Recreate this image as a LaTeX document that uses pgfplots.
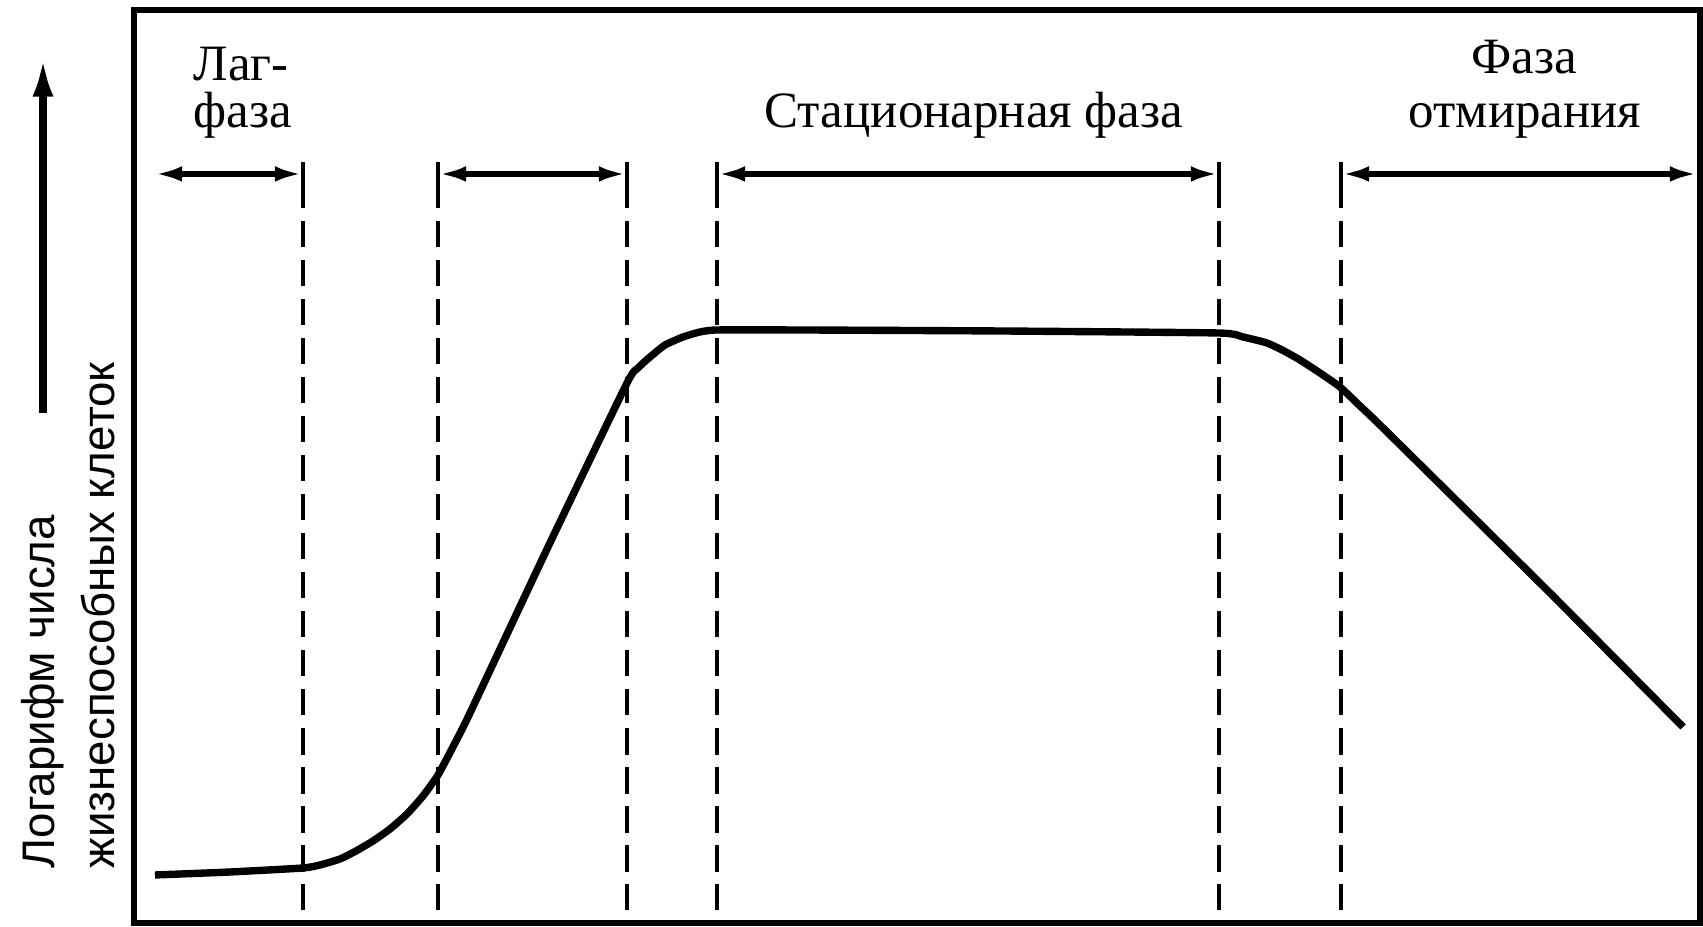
\documentclass[border=0pt]{standalone}
\usepackage{fontspec}
\setmainfont{Liberation Serif}
\newfontfamily\arialfont{Liberation Sans}
\usepackage{pgfplots}
\pgfplotsset{compat=1.18}
\usetikzlibrary{arrows.meta}
\tikzset{
  dashline/.style={line width=1pt, dash pattern=on 7.5pt off 3.6pt},
  phase/.style={line width=1.9pt, {Latex[length=8pt,width=4.4pt]}-{Latex[length=8pt,width=4.4pt]}},
  lbl/.style={font=\fontsize{14.5}{14}\selectfont, inner sep=0pt},
}

\begin{document}
\begin{tikzpicture}
\begin{axis}[
  at={(13.4mm,0.4mm)}, anchor=south west,
  scale only axis, width=156.6mm, height=91.3mm,
  xmin=134, xmax=1700, ymin=4, ymax=917,
  xtick=\empty, ytick=\empty,
  axis line style={line width=1.8pt},
  clip=false,
]
% growth curve
\addplot[line width=2.1pt, smooth, tension=0.3, line join=round] coordinates {
 (155,52) (230,55) (303,59) (320,62) (340,68) (356,76) (373,86) (390,98)
 (407,113) (423,131) (438,152) (455,184) (470,214) (548,380) (627,544)
 (638,559) (650,570) (665,582) (683,590) (700,595) (717,597)
 (800,597) (1000,596) (1218,594)
 (1243,590) (1267,584) (1284,576) (1300,567) (1320,554) (1340,540)
 (1360,521) (1383,499) (1550,334) (1683,200)
};
% dashed phase boundaries
\foreach \xx in {303,438,627,717,1219,1341} {
  \edef\temp{\noexpand\draw[dashline] (axis cs:\xx,745) -- (axis cs:\xx,17);}
  \temp
  \edef\temp{\noexpand\draw[line width=1pt] (axis cs:\xx,765) -- (axis cs:\xx,741);}
  \temp
}
% phase arrows
\draw[phase] (axis cs:154,753) -- (axis cs:303,753);
\draw[phase] (axis cs:438,753) -- (axis cs:627,753);
\draw[phase] (axis cs:717,753) -- (axis cs:1219,753);
\draw[phase] (axis cs:1341,753) -- (axis cs:1698,753);
% labels
\node[lbl, anchor=base west] at (axis cs:193,846) {Лаг-};
\node[lbl, anchor=base west] at (axis cs:193,799) {фаза};
\node[lbl, anchor=base] at (axis cs:974,799) {Стационарная фаза};
\node[lbl, anchor=base] at (axis cs:1524,853) {Фаза};
\node[lbl, anchor=base] at (axis cs:1525,799) {отмирания};
% y axis arrow and label
\draw[line width=2pt, -{Latex[length=11pt,width=6pt]}] (axis cs:43,514) -- (axis cs:43,869);
\node[rotate=90, anchor=west, inner sep=0pt, font=\arialfont\fontsize{13}{14}\selectfont] at (axis cs:43,58) {Логарифм числа};
\node[rotate=90, anchor=west, inner sep=0pt, font=\arialfont\fontsize{13}{14}\selectfont] at (axis cs:98,58) {жизнеспособных клеток};
\end{axis}
\pgfresetboundingbox
\path[use as bounding box] (0,0) rectangle (170.3mm,92.7mm);
\end{tikzpicture}
\end{document}
